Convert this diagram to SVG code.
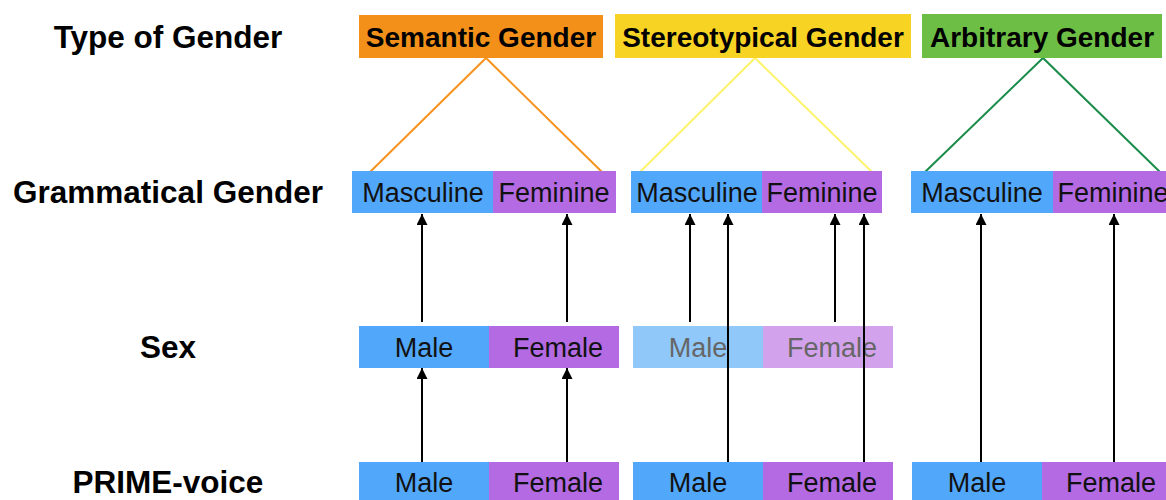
<svg xmlns="http://www.w3.org/2000/svg" width="1166" height="500" viewBox="0 0 1166 500">
  <style>
    .row { font-family: "Liberation Sans", Arial, sans-serif; font-weight: bold; font-size: 31.5px; fill: #000; text-anchor: middle; }
    .head { font-family: "Liberation Sans", Arial, sans-serif; font-weight: bold; font-size: 28px; fill: #000; text-anchor: middle; }
    .lbl { font-family: "Liberation Sans", Arial, sans-serif; font-size: 27px; fill: #111; text-anchor: middle; }
    .faint { fill: #666; }
    .m { fill: #51A7F9; }
    .f { fill: #B36AE2; }
    .m2 { fill: #90C8FA; }
    .f2 { fill: #D3A2EC; }
    .arr { stroke: #000; stroke-width: 2; fill: none; marker-end: url(#ah); }
  </style>
  <defs>
    <marker id="ah" viewBox="0 0 10 10" refX="10" refY="5" markerWidth="5.5" markerHeight="5.5" orient="auto" markerUnits="strokeWidth">
      <path d="M0,0 L10,5 L0,10 z" fill="#000"/>
    </marker>
  </defs>

  <rect width="1166" height="500" fill="#fff"/>

  <!-- row titles -->
  <g id="row-labels">
    <text class="row" x="168" y="48">Type of Gender</text>
    <text class="row" x="168" y="203">Grammatical Gender</text>
    <text class="row" x="168" y="358">Sex</text>
    <text class="row" x="168" y="493">PRIME-voice</text>
  </g>

  <!-- connectors -->
  <g id="connectors">
    <polyline points="370,172 486,58 602,172" fill="none" stroke="#F7931E" stroke-width="2"/>
    <polyline points="640,172 755,58 872,172" fill="none" stroke="#FEF36C" stroke-width="2"/>
    <polyline points="925,172 1043,58 1160,172" fill="none" stroke="#1B8C4A" stroke-width="2"/>

    <line class="arr" x1="422" y1="462" x2="422" y2="368"/>
    <line class="arr" x1="567" y1="462" x2="567" y2="368"/>
    <line class="arr" x1="422" y1="322" x2="422" y2="214"/>
    <line class="arr" x1="567" y1="322" x2="567" y2="214"/>

    <line class="arr" x1="690" y1="322" x2="690" y2="214"/>
    <line class="arr" x1="835" y1="322" x2="835" y2="214"/>

    <line class="arr" x1="981" y1="462" x2="981" y2="214"/>
    <line class="arr" x1="1114" y1="462" x2="1114" y2="214"/>
  </g>

  <!-- gender types -->
  <g id="semantic">
    <rect x="359" y="15" width="244" height="43" fill="#F39019"/>
    <text class="head" x="481" y="47">Semantic Gender</text>
  </g>
  <g id="stereotypical">
    <rect x="615" y="14" width="296" height="44" fill="#F7D324"/>
    <text class="head" x="763" y="47">Stereotypical Gender</text>
  </g>
  <g id="arbitrary">
    <rect x="922" y="14" width="240" height="44" fill="#6DBE45"/>
    <text class="head" x="1042" y="47">Arbitrary Gender</text>
  </g>

  <!-- grammatical gender -->
  <g id="gram-1">
    <rect class="m" x="352" y="171" width="141" height="42"/>
    <rect class="f" x="493" y="171" width="123" height="42"/>
    <text class="lbl" x="423" y="202">Masculine</text>
    <text class="lbl" x="554" y="202">Feminine</text>
  </g>
  <g id="gram-2">
    <rect class="m" x="631" y="171" width="131" height="42"/>
    <rect class="f" x="762" y="171" width="120" height="42"/>
    <text class="lbl" x="697" y="202">Masculine</text>
    <text class="lbl" x="822" y="202">Feminine</text>
  </g>
  <g id="gram-3">
    <rect class="m" x="911" y="171" width="142" height="42"/>
    <rect class="f" x="1053" y="171" width="113" height="42"/>
    <text class="lbl" x="982" y="202">Masculine</text>
    <text class="lbl" x="1113" y="202">Feminine</text>
  </g>

  <!-- sex -->
  <g id="sex-1">
    <rect class="m" x="359" y="326" width="130" height="42"/>
    <rect class="f" x="489" y="326" width="130" height="42"/>
    <text class="lbl" x="424" y="357">Male</text>
    <text class="lbl" x="558" y="357">Female</text>
  </g>
  <g id="sex-2">
    <rect class="m2" x="633" y="326" width="130" height="42"/>
    <rect class="f2" x="763" y="326" width="130" height="42"/>
    <text class="lbl faint" x="698" y="357">Male</text>
    <text class="lbl faint" x="832" y="357">Female</text>
  </g>

  <!-- prime voice -->
  <g id="prime-1">
    <rect class="m" x="359" y="462" width="130" height="38"/>
    <rect class="f" x="489" y="462" width="130" height="38"/>
    <text class="lbl" x="424" y="492">Male</text>
    <text class="lbl" x="558" y="492">Female</text>
  </g>
  <g id="prime-2">
    <rect class="m" x="633" y="462" width="130" height="38"/>
    <rect class="f" x="763" y="462" width="130" height="38"/>
    <text class="lbl" x="698" y="492">Male</text>
    <text class="lbl" x="832" y="492">Female</text>
  </g>
  <g id="prime-3">
    <rect class="m" x="912" y="462" width="130" height="38"/>
    <rect class="f" x="1042" y="462" width="124" height="38"/>
    <text class="lbl" x="977" y="492">Male</text>
    <text class="lbl" x="1111" y="492">Female</text>
  </g>

  <!-- long arrows crossing the faded sex row -->
  <g id="connectors-through">
    <line class="arr" x1="728" y1="462" x2="728" y2="214"/>
    <line class="arr" x1="864" y1="462" x2="864" y2="214"/>
  </g>
</svg>
